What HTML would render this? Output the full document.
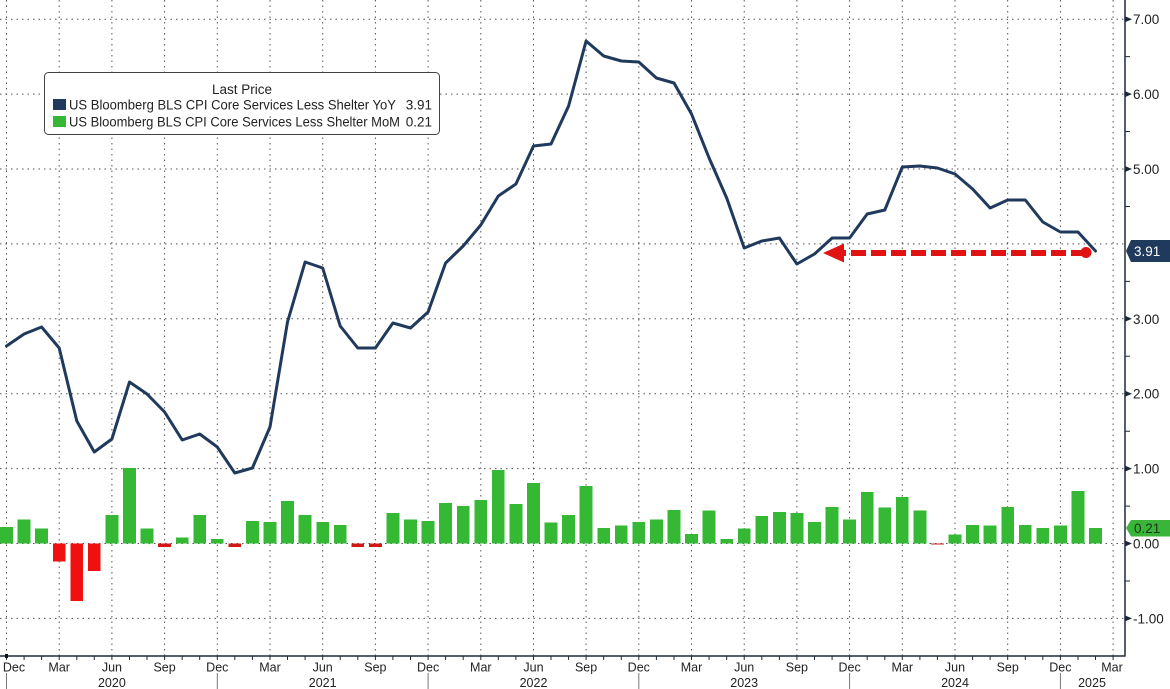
<!DOCTYPE html>
<html><head><meta charset="utf-8"><style>
html,body{margin:0;padding:0;background:#fff;}
svg{display:block;font-family:"Liberation Sans",Tahoma,sans-serif;}
</style></head><body>
<svg width="1170" height="689" viewBox="0 0 1170 689" xmlns="http://www.w3.org/2000/svg">
<rect width="1170" height="689" fill="#fff"/>
<!-- horizontal grid -->
<g stroke="#555" stroke-width="1" stroke-dasharray="1.5 4">
<path d="M0 19.2H1125M0 94.1H1125M0 169H1125M0 243.9H1125M0 318.8H1125M0 393.7H1125M0 468.6H1125M0 543.5H1125M0 618.4H1125"/>
</g>
<!-- vertical grid -->
<g stroke="#555" stroke-width="1" stroke-dasharray="1.5 4">
<path d="M6.5 0V656M59.2 0V656M111.9 0V656M164.6 0V656M217.3 0V656M270 0V656M322.7 0V656M375.4 0V656M428.1 0V656M480.8 0V656M533.5 0V656M586.1 0V656M638.8 0V656M691.5 0V656M744.2 0V656M796.9 0V656M849.6 0V656M902.3 0V656M955 0V656M1007.7 0V656M1060.4 0V656M1113.1 0V656"/>
</g>
<!-- bars -->
<g transform="translate(0,543.5) scale(1,-74.9)" fill="#35b935" shape-rendering="crispEdges">
<rect x="0.1" y="0" width="12.8" height="0.22"/>
<rect x="17.7" y="0" width="12.8" height="0.32"/>
<rect x="35.2" y="0" width="12.8" height="0.20"/>
<rect x="52.8" y="-0.24" width="12.8" height="0.24" fill="#f01010"/>
<rect x="70.4" y="-0.77" width="12.8" height="0.77" fill="#f01010"/>
<rect x="87.9" y="-0.37" width="12.8" height="0.37" fill="#f01010"/>
<rect x="105.5" y="0" width="12.8" height="0.38"/>
<rect x="123.1" y="0" width="12.8" height="1.01"/>
<rect x="140.6" y="0" width="12.8" height="0.20"/>
<rect x="158.2" y="-0.05" width="12.8" height="0.05" fill="#d01818"/>
<rect x="175.8" y="0" width="12.8" height="0.08"/>
<rect x="193.3" y="0" width="12.8" height="0.38"/>
<rect x="210.9" y="0" width="12.8" height="0.06"/>
<rect x="228.4" y="-0.05" width="12.8" height="0.05" fill="#d01818"/>
<rect x="246" y="0" width="12.8" height="0.30"/>
<rect x="263.6" y="0" width="12.8" height="0.29"/>
<rect x="281.1" y="0" width="12.8" height="0.57"/>
<rect x="298.7" y="0" width="12.8" height="0.38"/>
<rect x="316.3" y="0" width="12.8" height="0.29"/>
<rect x="333.8" y="0" width="12.8" height="0.25"/>
<rect x="351.4" y="-0.05" width="12.8" height="0.05" fill="#d01818"/>
<rect x="369" y="-0.05" width="12.8" height="0.05" fill="#d01818"/>
<rect x="386.5" y="0" width="12.8" height="0.41"/>
<rect x="404.1" y="0" width="12.8" height="0.32"/>
<rect x="421.7" y="0" width="12.8" height="0.30"/>
<rect x="439.2" y="0" width="12.8" height="0.54"/>
<rect x="456.8" y="0" width="12.8" height="0.50"/>
<rect x="474.4" y="0" width="12.8" height="0.58"/>
<rect x="491.9" y="0" width="12.8" height="0.98"/>
<rect x="509.5" y="0" width="12.8" height="0.53"/>
<rect x="527.1" y="0" width="12.8" height="0.81"/>
<rect x="544.6" y="0" width="12.8" height="0.28"/>
<rect x="562.2" y="0" width="12.8" height="0.38"/>
<rect x="579.7" y="0" width="12.8" height="0.77"/>
<rect x="597.3" y="0" width="12.8" height="0.21"/>
<rect x="614.9" y="0" width="12.8" height="0.24"/>
<rect x="632.4" y="0" width="12.8" height="0.29"/>
<rect x="650" y="0" width="12.8" height="0.32"/>
<rect x="667.6" y="0" width="12.8" height="0.45"/>
<rect x="685.1" y="0" width="12.8" height="0.13"/>
<rect x="702.7" y="0" width="12.8" height="0.44"/>
<rect x="720.3" y="0" width="12.8" height="0.06"/>
<rect x="737.8" y="0" width="12.8" height="0.20"/>
<rect x="755.4" y="0" width="12.8" height="0.37"/>
<rect x="773" y="0" width="12.8" height="0.42"/>
<rect x="790.5" y="0" width="12.8" height="0.41"/>
<rect x="808.1" y="0" width="12.8" height="0.29"/>
<rect x="825.7" y="0" width="12.8" height="0.49"/>
<rect x="843.2" y="0" width="12.8" height="0.32"/>
<rect x="860.8" y="0" width="12.8" height="0.69"/>
<rect x="878.4" y="0" width="12.8" height="0.48"/>
<rect x="895.9" y="0" width="12.8" height="0.62"/>
<rect x="913.5" y="0" width="12.8" height="0.44"/>
<rect x="931" y="-0.015" width="12.8" height="0.015" fill="#c02020"/>
<rect x="948.6" y="0" width="12.8" height="0.12"/>
<rect x="966.2" y="0" width="12.8" height="0.25"/>
<rect x="983.7" y="0" width="12.8" height="0.24"/>
<rect x="1001.3" y="0" width="12.8" height="0.49"/>
<rect x="1018.9" y="0" width="12.8" height="0.25"/>
<rect x="1036.4" y="0" width="12.8" height="0.21"/>
<rect x="1054" y="0" width="12.8" height="0.24"/>
<rect x="1071.6" y="0" width="12.8" height="0.70"/>
<rect x="1089.1" y="0" width="12.8" height="0.21"/>
</g>
<!-- YoY line -->
<polyline fill="none" stroke="#1f3a5c" stroke-width="3" stroke-linejoin="round" stroke-linecap="round" points="6.5,346 24.1,334 41.6,327 59.2,348 76.8,421 94.3,452 111.9,439 129.5,382 147,394 164.6,412 182.2,440 199.7,434 217.3,447 234.8,473 252.4,468 270,427 287.5,322 305.1,262 322.7,268 340.2,326 357.8,348 375.4,348 392.9,323 410.5,328 428.1,312 445.6,263 463.2,246 480.8,225 498.3,196 515.9,184 533.5,146 551,144 568.6,106 586.1,41 603.7,56 621.3,61 638.8,62 656.4,78 674,83 691.5,114 709.1,158 726.7,198 744.2,248 761.8,241 779.4,238 796.9,264 814.5,254 832.1,238 849.6,238 867.2,214 884.8,210 902.3,167 919.9,166 937.4,168 955,174 972.6,189 990.1,208 1007.7,200 1025.3,200 1042.8,222 1060.4,232 1078,232 1095.5,251"/>
<!-- red dashed arrow -->
<line x1="1086" y1="253" x2="842" y2="253" stroke="#e01212" stroke-width="6" stroke-dasharray="15 5"/>
<polygon points="823,253 844,243.5 844,262.5" fill="#e01212"/>
<circle cx="1086" cy="252.5" r="5.5" fill="#e01212"/>
<!-- legend -->
<rect x="44.5" y="72.5" width="395" height="62" rx="4" ry="4" fill="#fff" stroke="#444" stroke-width="1"/>
<text x="242" y="94" font-size="13.5" fill="#222" text-anchor="middle">Last Price</text>
<rect x="53" y="99" width="13" height="11" fill="#1f3a5c"/>
<text x="69" y="109.5" font-size="13.5" fill="#222" textLength="327" lengthAdjust="spacingAndGlyphs">US Bloomberg BLS CPI Core Services Less Shelter YoY</text>
<text x="432" y="109.5" font-size="13.5" fill="#222" text-anchor="end">3.91</text>
<rect x="53" y="116" width="13" height="11" fill="#35b935"/>
<text x="69" y="126.5" font-size="13.5" fill="#222" textLength="331" lengthAdjust="spacingAndGlyphs">US Bloomberg BLS CPI Core Services Less Shelter MoM</text>
<text x="432" y="126.5" font-size="13.5" fill="#222" text-anchor="end">0.21</text>
<!-- axes -->
<line x1="1125" y1="0" x2="1125" y2="656.5" stroke="#1e2a3a" stroke-width="1.5"/>
<line x1="0" y1="656" x2="1125.5" y2="656" stroke="#1e2a3a" stroke-width="1.5"/>
<!-- right axis ticks -->
<g fill="#1e2a3a">
<polygon points="1125,16.2 1125,22.2 1132,19.2"/>
<polygon points="1125,91.1 1125,97.1 1132,94.1"/>
<polygon points="1125,166 1125,172 1132,169"/>
<polygon points="1125,315.8 1125,321.8 1132,318.8"/>
<polygon points="1125,390.7 1125,396.7 1132,393.7"/>
<polygon points="1125,465.6 1125,471.6 1132,468.6"/>
<polygon points="1125,540.5 1125,546.5 1132,543.5"/>
<polygon points="1125,615.4 1125,621.4 1132,618.4"/>
</g>
<path d="M1125 56.6h5M1125 131.5h5M1125 206.5h5M1125 281.4h5M1125 356.3h5M1125 431.2h5M1125 506.1h5M1125 581h5" stroke="#1e2a3a" stroke-width="1"/>
<g font-size="13.5" fill="#222">
<text x="1133" y="24">7.00</text>
<text x="1133" y="99">6.00</text>
<text x="1133" y="174">5.00</text>
<text x="1133" y="323.8">3.00</text>
<text x="1133" y="398.7">2.00</text>
<text x="1133" y="473.6">1.00</text>
<text x="1133" y="548.5">0.00</text>
<text x="1133" y="623.4">-1.00</text>
</g>
<!-- last value boxes -->
<polygon points="1126,251 1131,240 1170,240 1170,262 1131,262" fill="#1f3a5c"/>
<text x="1134" y="256" font-size="13.5" fill="#fff">3.91</text>
<polygon points="1126,528 1131,520 1170,520 1170,536.5 1131,536.5" fill="#3ab53a"/>
<text x="1134" y="533" font-size="13.5" fill="#173517">0.21</text>
<!-- bottom ticks -->
<path stroke="#1e2a3a" stroke-width="1" d="M6.5 656v4M24.1 656v4M41.6 656v4M59.2 656v4M76.8 656v4M94.3 656v4M111.9 656v4M129.5 656v4M147 656v4M164.6 656v4M182.2 656v4M199.7 656v4M217.3 656v4M234.8 656v4M252.4 656v4M270 656v4M287.5 656v4M305.1 656v4M322.7 656v4M340.2 656v4M357.8 656v4M375.4 656v4M392.9 656v4M410.5 656v4M428.1 656v4M445.6 656v4M463.2 656v4M480.8 656v4M498.3 656v4M515.9 656v4M533.5 656v4M551 656v4M568.6 656v4M586.1 656v4M603.7 656v4M621.3 656v4M638.8 656v4M656.4 656v4M674 656v4M691.5 656v4M709.1 656v4M726.7 656v4M744.2 656v4M761.8 656v4M779.4 656v4M796.9 656v4M814.5 656v4M832.1 656v4M849.6 656v4M867.2 656v4M884.8 656v4M902.3 656v4M919.9 656v4M937.4 656v4M955 656v4M972.6 656v4M990.1 656v4M1007.7 656v4M1025.3 656v4M1042.8 656v4M1060.4 656v4M1078 656v4M1095.5 656v4M1113.1 656v4"/>
<rect x="5" y="654" width="3" height="4" fill="#111"/>
<!-- year separators -->
<path stroke="#777" stroke-width="1" d="M6.5 673V689M217.3 673V689M428.1 673V689M638.8 673V689M849.6 673V689M1060.4 673V689"/>
<!-- month labels -->
<g font-size="12.5" fill="#222" text-anchor="middle">
<text x="14" y="671.5">Dec</text>
<text x="59.2" y="671.5">Mar</text>
<text x="111.9" y="671.5">Jun</text>
<text x="164.6" y="671.5">Sep</text>
<text x="217.3" y="671.5">Dec</text>
<text x="270" y="671.5">Mar</text>
<text x="322.7" y="671.5">Jun</text>
<text x="375.4" y="671.5">Sep</text>
<text x="428.1" y="671.5">Dec</text>
<text x="480.8" y="671.5">Mar</text>
<text x="533.5" y="671.5">Jun</text>
<text x="586.1" y="671.5">Sep</text>
<text x="638.8" y="671.5">Dec</text>
<text x="691.5" y="671.5">Mar</text>
<text x="744.2" y="671.5">Jun</text>
<text x="796.9" y="671.5">Sep</text>
<text x="849.6" y="671.5">Dec</text>
<text x="902.3" y="671.5">Mar</text>
<text x="955" y="671.5">Jun</text>
<text x="1007.7" y="671.5">Sep</text>
<text x="1060.4" y="671.5">Dec</text>
<text x="1112" y="671.5">Mar</text>
<text x="111.9" y="687">2020</text>
<text x="322.7" y="687">2021</text>
<text x="533.5" y="687">2022</text>
<text x="744.2" y="687">2023</text>
<text x="955" y="687">2024</text>
<text x="1092" y="687">2025</text>
</g>
</svg>
</body></html>
